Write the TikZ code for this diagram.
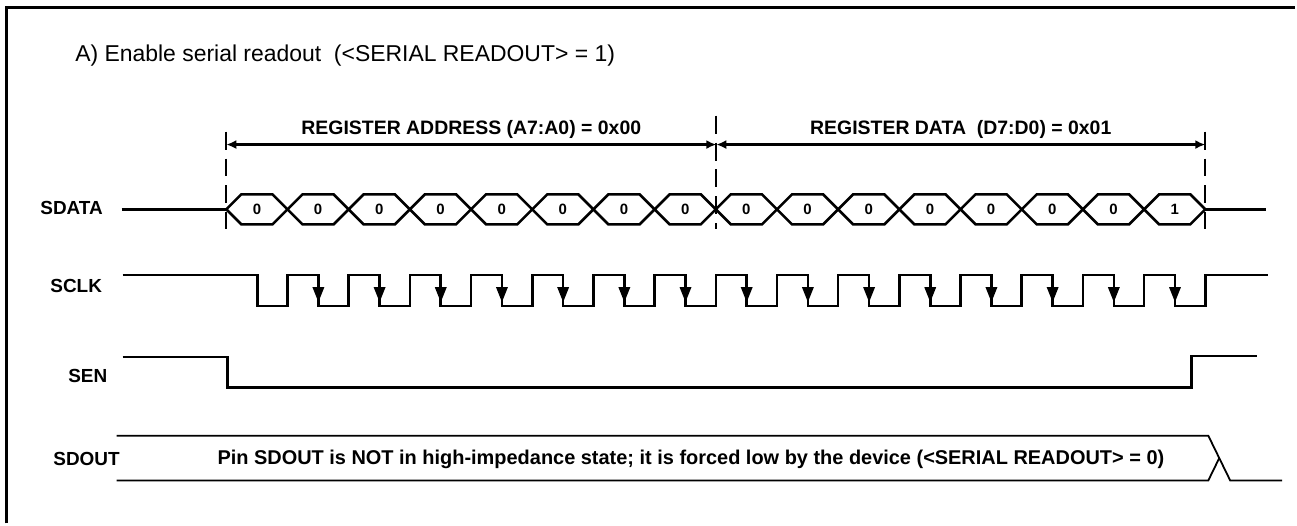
\documentclass[tikz,border=0pt]{standalone}
\usepackage{fontspec}
\setmainfont{Liberation Sans}
\usetikzlibrary{arrows.meta}

\begin{document}
\begin{tikzpicture}[x=1pt,y=-1pt,
    sig/.style={line width=2.6pt,line join=miter},
    outline/.style={line width=1.8pt},
    lbl/.style={anchor=base west,font=\fontsize{19}{21}\selectfont\bfseries},
    bit/.style={font=\fontsize{15}{17}\selectfont\bfseries},
    guide/.style={line width=1.8pt,dash pattern=on 18pt off 9pt},
    span/.style={line width=2.2pt,{Latex[length=10pt,width=9pt]}-{Latex[length=10pt,width=9pt]}},
    tip/.style={fill=black}]
    \fill[white] (-2,-2) rectangle (1299,525);
    \useasboundingbox (0,0) rectangle (1297,523);

    % Frame and title
    \draw[line width=3pt] (5,523) -- (5,6) -- (1297,6);
    \node[anchor=base west,font=\fontsize{23}{26}\selectfont] (title) at (70,60)
        {A) Enable serial readout\ \ (<SERIAL READOUT> = 1)};

    % Signal names
    \node[lbl] (sdata) at (35,213.5) {SDATA};
    \node[lbl] (sclk) at (45,291.5) {SCLK};
    \node[lbl] (sen) at (63,381.5) {SEN};
    \node[lbl] (sdout) at (48,465) {SDOUT};

    % Frame markers
    \coordinate (g0) at (225,143);
    \coordinate (g1) at (716.5,143);
    \coordinate (g2) at (1207,143);
    \draw[guide] (225,130) -- (225,228);
    \draw[guide] (716.5,114) -- (716.5,228);
    \draw[guide] (1207,130) -- (1207,228);
    \draw[span] (g0) -- node[above=2pt,font=\fontsize{19.5}{21}\selectfont\bfseries] (addr)
        {REGISTER ADDRESS (A7:A0) = 0x00} (g1);
    \draw[span] (g1) -- node[above=2pt,font=\fontsize{19.5}{21}\selectfont\bfseries] (data)
        {REGISTER DATA\ \ (D7:D0) = 0x01} (g2);

    % SDATA
    \draw[sig] (120,208) -- (225,208);
    \draw[sig] (1207,208) -- (1268,208);
    \foreach \v [count=\i from 0] in {0,0,0,0,0,0,0,0,0,0,0,0,0,0,0,1} {
        \pgfmathsetmacro\xa{225+61.375*\i}
        \pgfmathsetmacro\xb{\xa+61.375}
        \draw[sig] (\xa,208) -- (\xa+15,193) -- (\xb-15,193) -- (\xb,208)
            -- (\xb-15,223) -- (\xa+15,223) -- cycle;
        \node[bit] (b\i) at (\xa+30.7,208) {\v};
    }

    % SCLK
    \draw[sig] (121,274) foreach \k in {0,...,15} {
        -- ({256+61.375*\k},274) -- ({256+61.375*\k},305)
        -- ({286.4+61.375*\k},305) -- ({286.4+61.375*\k},274)
    } -- (1270,274);
    \foreach \k in {1,...,15}
        \fill[tip] ({256+61.375*\k-6},286) -- ({256+61.375*\k+6},286)
            -- ({256+61.375*\k},301) -- cycle;

    % SEN
    \draw[sig] (121,356) -- (226,356) -- (226,386.5) -- (1193,386.5)
        -- (1193,355) -- (1259,355);

    % SDOUT
    \draw[outline] (115,435) -- (1210,435) -- (1232,480) -- (1284,480);
    \draw[outline] (115,480) -- (1210,480) -- (1221,457.5);
    \node[anchor=base,font=\fontsize{20}{22}\selectfont\bfseries] (note) at (691,464)
        {Pin SDOUT is NOT in high-impedance state; it is forced low by the device (<SERIAL READOUT> = 0)};
\end{tikzpicture}
\end{document}
